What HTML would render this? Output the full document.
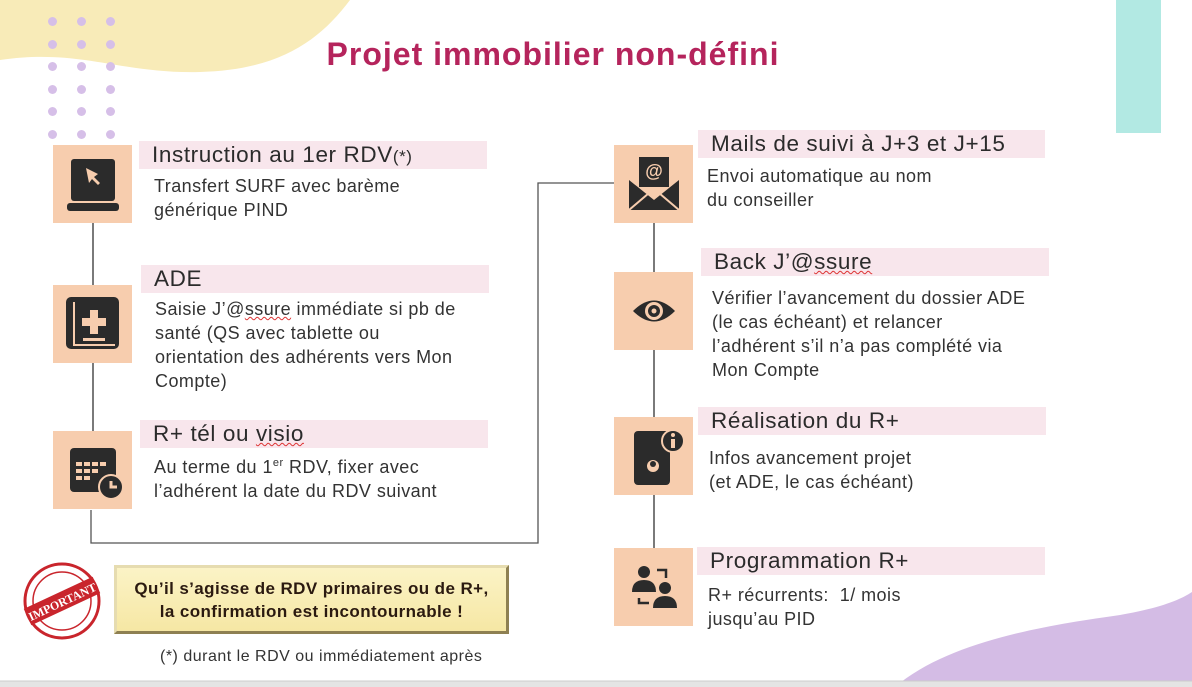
<!DOCTYPE html>
<html><head><meta charset="utf-8"><style>
*{margin:0;padding:0;box-sizing:border-box}
body{width:1192px;height:687px;position:relative;overflow:hidden;background:#fff;font-family:"Liberation Sans",sans-serif;color:#2b2b2b}
.a{position:absolute}
.ic{position:absolute;width:79px;height:78px;background:#f7cdae}
.hd{position:absolute;height:28px;background:#f8e6ec;font-size:22.5px;letter-spacing:0.6px;line-height:28px;padding-left:13px;color:#2b2b2b;white-space:nowrap}
.tx{position:absolute;font-size:18px;letter-spacing:0.45px;line-height:24px;color:#333;white-space:nowrap}
.dot{position:absolute;width:9px;height:9px;border-radius:50%;background:#d6bfe8}
.sq{text-decoration:underline wavy #d33;text-decoration-thickness:1px}
</style></head><body>
<svg class="a" style="left:0;top:0" width="1192" height="687">
<path d="M0,0 H350 C320,40 280,70 200,72 C120,74 80,48 0,60 Z" fill="#f8ebb8"/>
<rect x="1116" y="0" width="45" height="133" fill="#b2e9e3"/>
<path d="M895,687 C950,640 1050,625 1120,615 C1160,608 1180,600 1192,592 V687 Z" fill="#d4bce5"/>
<rect x="0" y="681" width="1192" height="6" fill="#e4e4e4"/>
<line x1="0" y1="681" x2="1192" y2="681" stroke="#ccc"/>
<g stroke="#333" stroke-width="1.3" fill="none">
<line x1="93" y1="223" x2="93" y2="285"/>
<line x1="93" y1="363" x2="93" y2="431"/>
<polyline points="91,510 91,543 538,543 538,183 614,183" stroke="#555"/>
<line x1="654" y1="223" x2="654" y2="272"/>
<line x1="654" y1="350" x2="654" y2="417"/>
<line x1="654" y1="495" x2="654" y2="548"/>
</g>
</svg>
<div class="a" style="left:0;top:36px;width:1106px;text-align:center;font-size:32px;letter-spacing:1px;font-weight:bold;color:#b5245c">Projet immobilier non-défini</div>

<div class="dot" style="left:48px;top:17px"></div><div class="dot" style="left:77px;top:17px"></div><div class="dot" style="left:106px;top:17px"></div>
<div class="dot" style="left:48px;top:40px"></div><div class="dot" style="left:77px;top:40px"></div><div class="dot" style="left:106px;top:40px"></div>
<div class="dot" style="left:48px;top:62px"></div><div class="dot" style="left:77px;top:62px"></div><div class="dot" style="left:106px;top:62px"></div>
<div class="dot" style="left:48px;top:85px"></div><div class="dot" style="left:77px;top:85px"></div><div class="dot" style="left:106px;top:85px"></div>
<div class="dot" style="left:48px;top:107px"></div><div class="dot" style="left:77px;top:107px"></div><div class="dot" style="left:106px;top:107px"></div>
<div class="dot" style="left:48px;top:130px"></div><div class="dot" style="left:77px;top:130px"></div><div class="dot" style="left:106px;top:130px"></div>

<div class="ic" style="left:53px;top:145px"><svg width="79" height="78"><rect x="18" y="14" width="44" height="42" rx="3" fill="#2b2b2b"/><rect x="14" y="58" width="52" height="8" rx="3" fill="#2b2b2b"/><path d="M33,23 L36,38 L39,34 L45,40 L47,38 L41,32 L45,29 Z" fill="#f7cdae"/></svg></div>
<div class="ic" style="left:53px;top:285px"><svg width="79" height="78"><rect x="13" y="12" width="53" height="52" rx="5" fill="#2b2b2b"/><rect x="20" y="17" width="42" height="44" fill="#f7cdae"/><rect x="22" y="17" width="40" height="42" fill="#2b2b2b"/><path d="M37,25h8v8h8v8h-8v8h-8v-8h-8v-8h8z" fill="#f7cdae"/><rect x="30" y="53" width="22" height="3" fill="#f7cdae"/></svg></div>
<div class="ic" style="left:53px;top:431px"><svg width="79" height="78"><rect x="17" y="17" width="46" height="44" rx="4" fill="#2b2b2b"/><g fill="#f7cdae"><rect x="23" y="31" width="6" height="4"/><rect x="31" y="31" width="6" height="4"/><rect x="39" y="31" width="6" height="4"/><rect x="47" y="31" width="6" height="4"/><rect x="23" y="38" width="6" height="4"/><rect x="31" y="38" width="6" height="4"/><rect x="39" y="38" width="6" height="4"/><rect x="23" y="45" width="6" height="4"/><rect x="31" y="45" width="6" height="4"/></g><circle cx="58" cy="56" r="12" fill="#2b2b2b" stroke="#f7cdae" stroke-width="2"/><path d="M58,50v6h6" stroke="#f7cdae" stroke-width="3" fill="none"/></svg></div>

<div class="hd" style="left:139px;top:141px;width:348px">Instruction au 1er RDV<span style="font-size:17px">(*)</span></div>
<div class="tx" style="left:154px;top:174px">Transfert SURF avec barème<br>générique PIND</div>
<div class="hd" style="left:141px;top:265px;width:348px">ADE</div>
<div class="tx" style="left:155px;top:297px">Saisie J’@<span class="sq">ssure</span> immédiate si pb de<br>santé (QS avec tablette ou<br>orientation des adhérents vers Mon<br>Compte)</div>
<div class="hd" style="left:140px;top:420px;width:348px">R+ tél ou <span class="sq">visio</span></div>
<div class="tx" style="left:154px;top:451px">Au terme du 1<sup style="font-size:11px">er</sup> RDV, fixer avec<br>l’adhérent la date du RDV suivant</div>

<div class="ic" style="left:614px;top:145px"><svg width="79" height="78"><rect x="25" y="12" width="30" height="30" fill="#2b2b2b"/><path d="M15,35 L40,55 L65,35 V65 H15 Z" fill="#2b2b2b"/><path d="M15,65 L35,48 M65,65 L45,48" stroke="#f7cdae" stroke-width="2"/><text x="40" y="32" text-anchor="middle" font-size="18" font-weight="bold" fill="#f7cdae" font-family="Liberation Sans">@</text></svg></div>
<div class="ic" style="left:614px;top:272px"><svg width="79" height="78"><path d="M19,39 Q40,18 61,39 Q40,60 19,39Z" fill="#2b2b2b"/><circle cx="40" cy="39" r="9" fill="#f7cdae"/><circle cx="40" cy="39" r="6" fill="#2b2b2b"/><circle cx="40" cy="39" r="2.5" fill="#f7cdae"/></svg></div>
<div class="ic" style="left:614px;top:417px"><svg width="79" height="78"><rect x="20" y="14" width="36" height="54" rx="4" fill="#2b2b2b"/><circle cx="39" cy="49" r="6" fill="#f7cdae"/><circle cx="39" cy="47" r="3" fill="#2b2b2b"/><circle cx="59" cy="24" r="11" fill="#2b2b2b" stroke="#f7cdae" stroke-width="2"/><rect x="57" y="22" width="4" height="9" fill="#f7cdae"/><circle cx="59" cy="18" r="2" fill="#f7cdae"/></svg></div>
<div class="ic" style="left:614px;top:548px"><svg width="79" height="78"><circle cx="30" cy="24" r="6" fill="#2b2b2b"/><path d="M18,44 Q18,32 30,32 Q42,32 42,44Z" fill="#2b2b2b"/><circle cx="51" cy="40" r="6" fill="#2b2b2b"/><path d="M39,60 Q39,48 51,48 Q63,48 63,60Z" fill="#2b2b2b"/><path d="M43,22 H52 V30 M25,50 V55 H35" stroke="#2b2b2b" stroke-width="2.5" fill="none"/></svg></div>

<div class="hd" style="left:698px;top:130px;width:347px">Mails de suivi à J+3 et J+15</div>
<div class="tx" style="left:707px;top:164px">Envoi automatique au nom<br>du conseiller</div>
<div class="hd" style="left:701px;top:248px;width:348px">Back J’@<span class="sq">ssure</span></div>
<div class="tx" style="left:712px;top:286px">Vérifier l’avancement du dossier ADE<br>(le cas échéant) et relancer<br>l’adhérent s’il n’a pas complété via<br>Mon Compte</div>
<div class="hd" style="left:698px;top:407px;width:348px">Réalisation du R+</div>
<div class="tx" style="left:709px;top:446px">Infos avancement projet<br>(et ADE, le cas échéant)</div>
<div class="hd" style="left:697px;top:547px;width:348px">Programmation R+</div>
<div class="tx" style="left:708px;top:583px">R+ récurrents:&nbsp; 1/ mois<br>jusqu’au PID</div>

<svg class="a" style="left:20px;top:560px" width="84" height="82"><circle cx="42" cy="41" r="37" fill="none" stroke="#c9252c" stroke-width="3"/><circle cx="42" cy="41" r="29" fill="none" stroke="#c9252c" stroke-width="1.5"/><g transform="rotate(-25 42 41)"><rect x="4" y="32" width="76" height="18" fill="#c9252c"/><text x="42" y="46" text-anchor="middle" font-size="12" font-weight="bold" fill="#fff" font-family="Liberation Serif">IMPORTANT</text></g></svg>
<div class="a" style="left:114px;top:565px;width:395px;height:69px;background:linear-gradient(#fbf3c6,#f6e7a4);border:3px solid #b8a874;border-color:#e6dcb0 #8e8052 #8e8052 #e6dcb0;text-align:center;font-weight:bold;font-size:17px;letter-spacing:0.4px;line-height:23px;padding-top:9px;color:#2b1a10;white-space:nowrap">Qu’il s’agisse de RDV primaires ou de R+,<br>la confirmation est incontournable !</div>
<div class="tx" style="left:160px;top:645px;font-size:16px;letter-spacing:0.5px">(*) durant le RDV ou immédiatement après</div>
</body></html>
